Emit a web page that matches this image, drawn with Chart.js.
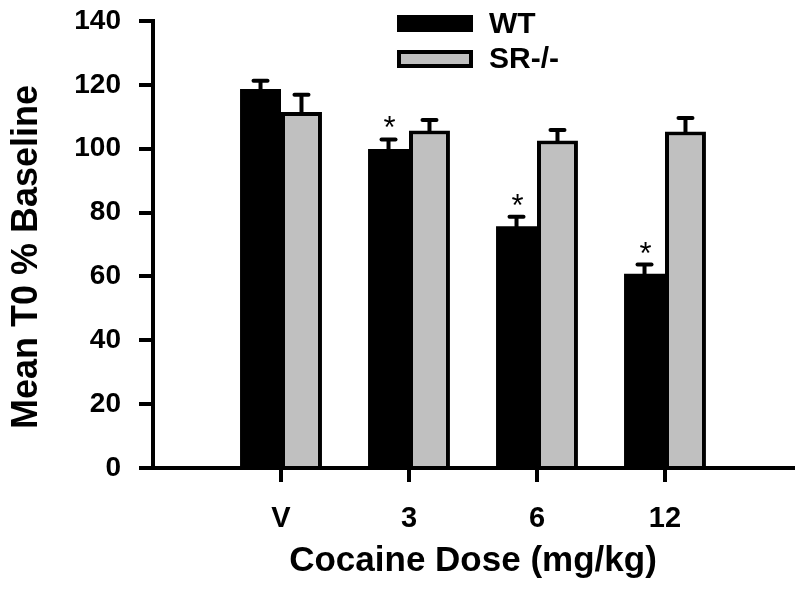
<!DOCTYPE html>
<html><head><meta charset="utf-8">
<script src="https://cdn.jsdelivr.net/npm/chart.js@4"></script>
<style>html,body{margin:0;padding:0;background:#fff}canvas{display:block}</style>
</head><body>
<canvas id="c" width="800" height="607"></canvas>
<script>
// ---- data ----
const categories = ['V', '3', '6', '12'];
const seriesNames = ['WT', 'SR-/-'];
const wtMeans = [118.7, 99.9, 75.7, 60.8];
const wtErrors = [2.6, 3.0, 3.0, 2.9];
const srMeans = [111.5, 105.7, 102.6, 105.4];
const srErrors = [5.4, 3.3, 3.3, 4.2];
const wtSignificant = [false, true, true, true];
const yMin = 0, yMax = 140, yStep = 20;
const xTitle = 'Cocaine Dose (mg/kg)';
const yTitle = 'Mean T0 % Baseline';

// ---- build library structures ----
const FONT = '"Liberation Sans", Arial, Helvetica, sans-serif';
const labels = [''].concat(categories, ['']);
const pad = arr => [null].concat(arr, [null]);
const errorSets = [wtErrors, srErrors];

const errPlugin = {
  id: 'errorBars',
  afterDatasetsDraw(chart) {
    const ctx = chart.ctx, ys = chart.scales.y;
    chart.data.datasets.forEach((ds, di) => {
      const meta = chart.getDatasetMeta(di);
      ds.data.forEach((v, i) => {
        if (v == null) return;
        const bar = meta.data[i];
        const e = errorSets[di][i - 1];
        const yTop = ys.getPixelForValue(v + e);
        ctx.save();
        ctx.strokeStyle = '#000';
        ctx.lineWidth = 4;
        ctx.beginPath(); ctx.moveTo(bar.x, bar.y + 1); ctx.lineTo(bar.x, yTop); ctx.stroke();
        ctx.lineCap = 'round';
        ctx.beginPath(); ctx.moveTo(bar.x - 7, yTop); ctx.lineTo(bar.x + 7, yTop); ctx.stroke();
        if (di === 0 && wtSignificant[i - 1]) {
          ctx.fillStyle = '#000';
          ctx.font = '31px ' + FONT;
          ctx.textAlign = 'center';
          ctx.textBaseline = 'alphabetic';
          ctx.fillText('*', bar.x + 1, yTop - 1);
        }
        ctx.restore();
      });
    });
  }
};

const decorPlugin = {
  id: 'decor',
  afterDraw(chart) {
    const ctx = chart.ctx;
    ctx.save();
    // legend
    const ds = chart.data.datasets;
    const rows = [{y: 15, h: 17}, {y: 50, h: 18}];
    ds.forEach((d, i) => {
      const r = rows[i];
      ctx.fillStyle = d.borderColor;
      ctx.fillRect(397, r.y, 76, r.h);
      if (d.borderWidth) {
        ctx.fillStyle = d.backgroundColor;
        ctx.fillRect(397 + 4, r.y + 4, 76 - 8, r.h - 8);
      }
      ctx.fillStyle = '#000';
      ctx.font = 'bold 30px ' + FONT;
      ctx.textAlign = 'left';
      ctx.textBaseline = 'middle';
      ctx.fillText(d.label, 489, r.y + r.h / 2 + 1);
    });
    // y title
    ctx.translate(27, 257);
    ctx.rotate(-Math.PI / 2);
    ctx.font = 'bold 36px ' + FONT;
    ctx.textAlign = 'center';
    ctx.textBaseline = 'middle';
    ctx.fillStyle = '#000';
    ctx.fillText(yTitle, 0, 0);
    ctx.restore();
  }
};

new Chart(document.getElementById('c'), {
  type: 'bar',
  data: {
    labels: labels,
    datasets: [
      { label: seriesNames[0], data: pad(wtMeans), backgroundColor: '#000', borderColor: '#000', borderWidth: 0 },
      { label: seriesNames[1], data: pad(srMeans), backgroundColor: '#c0c0c0', borderColor: '#000', borderWidth: 4 }
    ]
  },
  options: {
    responsive: false,
    animation: false,
    events: [],
    layout: { padding: { top: 21, right: 7, left: 0, bottom: 0 } },
    datasets: { bar: { categoryPercentage: 0.64, barPercentage: 1.0, borderSkipped: 'start' } },
    plugins: { legend: { display: false }, tooltip: { enabled: false } },
    scales: {
      x: {
        offset: false,
        grid: {
          offset: false,
          drawOnChartArea: false,
          drawTicks: true,
          tickLength: 14,
          lineWidth: 4,
          color: c => (c.index >= 1 && c.index <= 4) ? '#000' : 'rgba(0,0,0,0)'
        },
        border: { display: true, color: '#000', width: 4 },
        ticks: { color: '#000', font: { family: FONT, size: 29, weight: 'bold' }, padding: 20, maxRotation: 0, autoSkip: false },
        title: { display: true, text: xTitle, color: '#000', font: { family: FONT, size: 35, weight: 'bold' }, padding: { top: 0, bottom: 25 } },
        afterFit: s => { s.height = 139; s.paddingLeft = 0; s.paddingRight = 0; }
      },
      y: {
        min: yMin, max: yMax,
        grid: { drawOnChartArea: false, drawTicks: true, tickLength: 14, lineWidth: 4, color: '#000' },
        border: { display: true, color: '#000', width: 4 },
        ticks: { stepSize: yStep, color: '#000', font: { family: FONT, size: 28, weight: 'bold' }, padding: 18 },
        afterFit: s => { s.width = 153; s.paddingTop = 0; s.paddingBottom = 0; }
      }
    }
  },
  plugins: [errPlugin, decorPlugin]
});
</script>
</body></html>
